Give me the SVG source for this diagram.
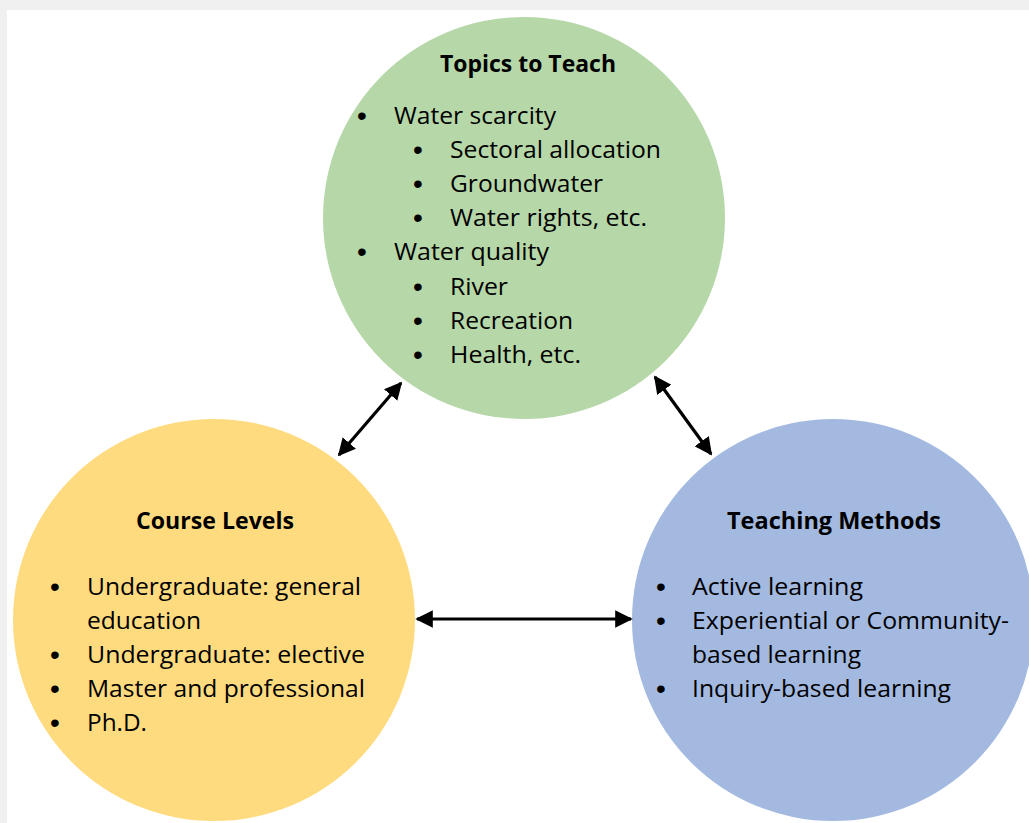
<svg xmlns="http://www.w3.org/2000/svg" width="1029" height="823" viewBox="0 0 1029 823">
<style>
text{font-family:"Open Sans","Liberation Sans",sans-serif;font-size:23px;fill:#000}
.t{font-weight:bold;text-anchor:middle}
.b{font-family:"Liberation Sans",Arial,sans-serif;font-size:28px;text-anchor:middle}
.c{stroke:#000;stroke-width:3.2;fill:none}
</style>
<defs>
<marker id="ah" viewBox="0 0 10 10" refX="9" refY="5" markerWidth="5.5" markerHeight="5.5" markerUnits="strokeWidth" orient="auto-start-reverse">
<path d="M0,0 L10,5 L0,10 Z" fill="#000"/>
</marker>
</defs>
<rect x="0" y="0" width="1029" height="823" fill="#F0F0F0"/>
<rect x="7" y="10" width="1022" height="813" fill="#FFFFFF"/>
<g id="topics">
<circle cx="524" cy="218" r="201" fill="#B6D7A8"/>
<text class="t" x="528" y="72" textLength="176" lengthAdjust="spacingAndGlyphs">Topics to Teach</text>
<text class="b" x="362" y="125">•</text><text x="394" y="124" textLength="162" lengthAdjust="spacingAndGlyphs">Water scarcity</text>
<text class="b" x="418" y="159">•</text><text x="450" y="158" textLength="211" lengthAdjust="spacingAndGlyphs">Sectoral allocation</text>
<text class="b" x="418" y="193">•</text><text x="450" y="192" textLength="153" lengthAdjust="spacingAndGlyphs">Groundwater</text>
<text class="b" x="418" y="227">•</text><text x="450" y="226" textLength="197" lengthAdjust="spacingAndGlyphs">Water rights, etc.</text>
<text class="b" x="362" y="261">•</text><text x="394" y="260" textLength="155" lengthAdjust="spacingAndGlyphs">Water quality</text>
<text class="b" x="418" y="296">•</text><text x="450" y="295" textLength="58" lengthAdjust="spacingAndGlyphs">River</text>
<text class="b" x="418" y="330">•</text><text x="450" y="329" textLength="123" lengthAdjust="spacingAndGlyphs">Recreation</text>
<text class="b" x="418" y="364">•</text><text x="450" y="363" textLength="131" lengthAdjust="spacingAndGlyphs">Health, etc.</text>
</g>
<g id="levels">
<circle cx="214" cy="620" r="201" fill="#FFDB80"/>
<text class="t" x="215" y="529" textLength="158" lengthAdjust="spacingAndGlyphs">Course Levels</text>
<text class="b" x="55" y="596">•</text><text x="87" y="595" textLength="274" lengthAdjust="spacingAndGlyphs">Undergraduate: general</text>
<text x="87" y="629" textLength="114" lengthAdjust="spacingAndGlyphs">education</text>
<text class="b" x="55" y="664">•</text><text x="87" y="663" textLength="278" lengthAdjust="spacingAndGlyphs">Undergraduate: elective</text>
<text class="b" x="55" y="698">•</text><text x="87" y="697" textLength="278" lengthAdjust="spacingAndGlyphs">Master and professional</text>
<text class="b" x="55" y="732">•</text><text x="87" y="731" textLength="60" lengthAdjust="spacingAndGlyphs">Ph.D.</text>
</g>
<g id="methods">
<circle cx="833" cy="620" r="201" fill="#A3B9E0"/>
<text class="t" x="834" y="529" textLength="214" lengthAdjust="spacingAndGlyphs">Teaching Methods</text>
<text class="b" x="661" y="596">•</text><text x="692" y="595" textLength="171" lengthAdjust="spacingAndGlyphs">Active learning</text>
<text class="b" x="661" y="630">•</text><text x="692" y="629" textLength="317" lengthAdjust="spacingAndGlyphs">Experiential or Community-</text>
<text x="692" y="663" textLength="169" lengthAdjust="spacingAndGlyphs">based learning</text>
<text class="b" x="661" y="698">•</text><text x="692" y="697" textLength="259" lengthAdjust="spacingAndGlyphs">Inquiry-based learning</text>
</g>
<g id="connectors">
<line class="c" x1="401" y1="383" x2="339" y2="455" marker-start="url(#ah)" marker-end="url(#ah)"/>
<line class="c" x1="655" y1="377" x2="711" y2="454" marker-start="url(#ah)" marker-end="url(#ah)"/>
<line class="c" x1="417" y1="619" x2="631" y2="619" marker-start="url(#ah)" marker-end="url(#ah)"/>
</g>
</svg>
